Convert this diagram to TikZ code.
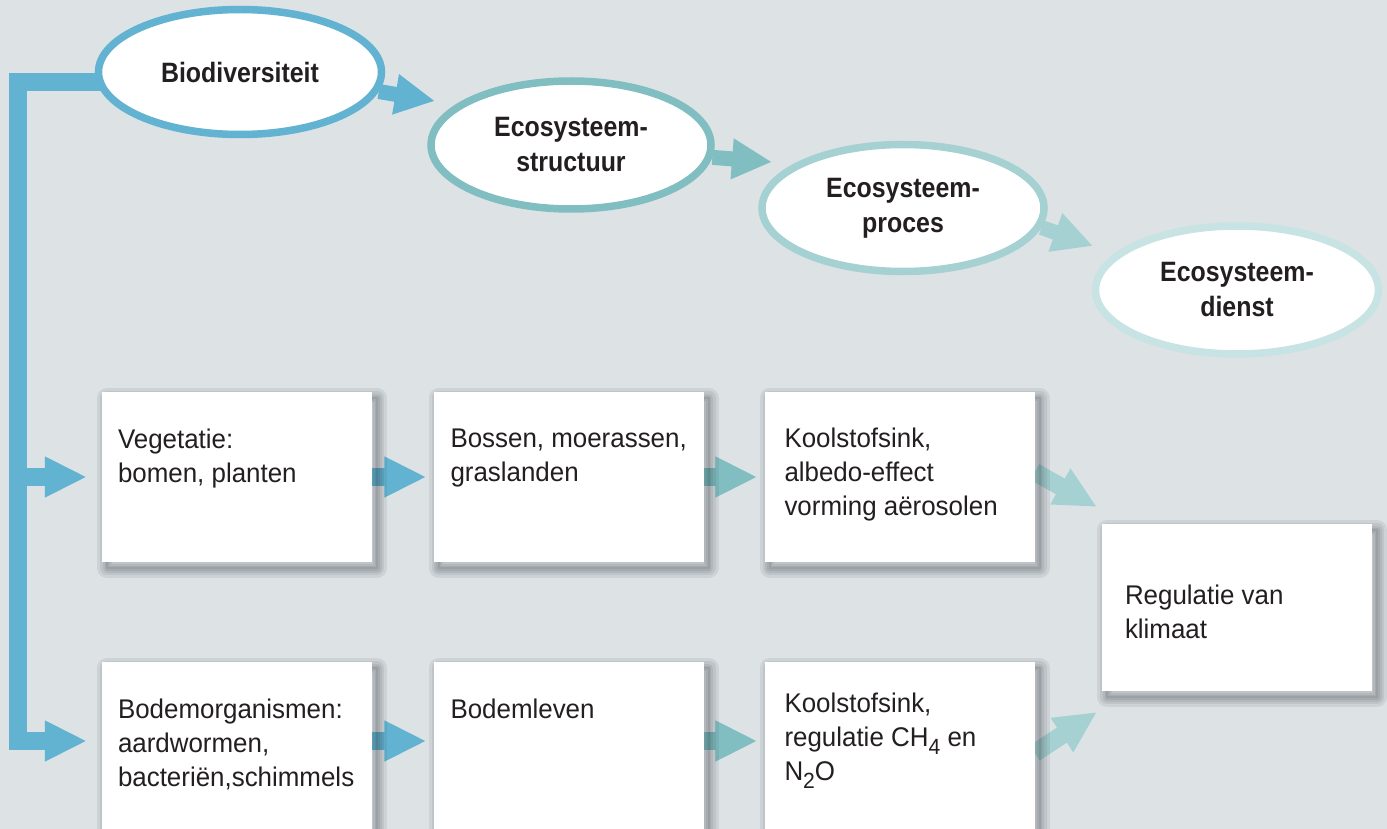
\documentclass[tikz,border=0pt]{standalone}
\usepackage{fontspec}
\setmainfont{Liberation Sans}[FakeStretch=0.96]
\newfontfamily\condbf{Liberation Sans}[FakeStretch=0.89]
\usetikzlibrary{shapes.geometric,arrows.meta}
\definecolor{bgc}{HTML}{DDE2E5}
\definecolor{cbio}{HTML}{62B3D1}
\definecolor{cst}{HTML}{80BEC1}
\definecolor{cpr}{HTML}{A6D1D3}
\definecolor{cdi}{HTML}{C8E3E4}
\definecolor{txtc}{HTML}{231F20}
\definecolor{shc}{HTML}{2A3438}
\pgfdeclarelayer{bglayer}
\pgfdeclarelayer{arrowlayer}
\pgfsetlayers{bglayer,arrowlayer,main}
\begin{document}
\begin{tikzpicture}[x=1pt,y=-1pt,
  ell/.style={ellipse, draw, line width=7.5pt, fill=white, inner sep=0pt, align=center,
    font=\condbf\bfseries\fontsize{28}{35}\selectfont, text=txtc},
  shlayer/.style={preaction={draw=shc, draw opacity=0.085, line width=#1, line join=round,
    transform canvas={shift={(5pt,-6pt)}}}},
  box/.style={rectangle, fill=white, minimum width=270pt, minimum height=170pt, inner sep=0pt,
    shlayer=20pt, shlayer=14pt, shlayer=9pt, shlayer=5pt, shlayer=2pt},
  txt/.style={anchor=base west, inner sep=0pt, font=\fontsize{27}{34}\selectfont, text=txtc},
  flow/.style={line width=18pt, -{Triangle[length=42pt,width=38pt]}},
  eflow/.style={line width=15pt, -{Triangle[length=40pt,width=38pt]}}
]
\begin{pgfonlayer}{bglayer}
\fill[bgc] (0,0) rectangle (1387,829);
\end{pgfonlayer}
\useasboundingbox (0,0) rectangle (1387,829);

% ellipses
\node[ell, draw=cbio, minimum width=283pt, minimum height=125pt] (bio) at (240,72) {Biodiversiteit};
\node[ell, draw=cst, minimum width=280pt, minimum height=128pt] (st) at (571,145) {Ecosysteem-\\structuur};
\node[ell, draw=cpr, minimum width=282pt, minimum height=127pt] (pr) at (903,208) {Ecosysteem-\\proces};
\node[ell, draw=cdi, minimum width=283pt, minimum height=128pt] (di) at (1237,290) {Ecosysteem-\\dienst};

% boxes
\node[box] (b1) at (237,477) {};
\node[box] (b2) at (568.5,477) {};
\node[box] (b3) at (899.5,477) {};
\node[box] (b4) at (237,747) {};
\node[box] (b5) at (568.5,747) {};
\node[box] (b6) at (899.5,747) {};
\node[box, minimum height=167pt] (reg) at (1237,607.5) {};

% texts
\node[txt, xshift=16pt, yshift=-57pt] (t1) at (b1.north west) {\parbox[t]{250pt}{\raggedright Vegetatie:\\bomen, planten}};
\node[txt, xshift=17pt, yshift=-56pt] (t2) at (b2.north west) {\parbox[t]{250pt}{\raggedright Bossen, moerassen,\\graslanden}};
\node[txt, xshift=20pt, yshift=-56pt] (t3) at (b3.north west) {\parbox[t]{250pt}{\raggedright Koolstofsink,\\albedo-effect\\vorming aërosolen}};
\node[txt, xshift=16pt, yshift=-57pt] (t4) at (b4.north west) {\parbox[t]{260pt}{\raggedright Bodemorganismen:\\aardwormen,\\bacteriën,schimmels}};
\node[txt, xshift=17pt, yshift=-57pt] (t5) at (b5.north west) {\parbox[t]{250pt}{\raggedright Bodemleven}};
\node[txt, xshift=20pt, yshift=-51pt] (t6) at (b6.north west) {\parbox[t]{250pt}{\raggedright Koolstofsink,\\regulatie CH\raisebox{-8pt}{\fontsize{22}{22}\selectfont 4} en\\N\raisebox{-8pt}{\fontsize{22}{22}\selectfont 2}O}};
\node[txt, xshift=23pt, yshift=-81pt] (t7) at (reg.north west) {\parbox[t]{240pt}{\raggedright Regulatie van\\klimaat}};

\coordinate (spine) at (18,82);
\coordinate (tipA) at (435,101);
\coordinate (tipB) at (772,162);
\coordinate (tipC) at (1093,246);
\coordinate (tipD) at (1097,507);
\coordinate (tipE) at (1097,712);
\coordinate (b4in) at ([yshift=6pt]b4.west);
\coordinate (b4out) at ([yshift=6pt]b4.east);
\coordinate (b5in) at ([yshift=6pt]b5.west);
\coordinate (b5out) at ([yshift=6pt]b5.east);
\coordinate (b6in) at ([yshift=6pt]b6.west);
\coordinate (b3out) at ([yshift=5pt]b3.east);
\coordinate (b6out) at ([yshift=-6pt]b6.east);
\coordinate (bioout) at ([yshift=-10pt]bio.center);
\coordinate (b1br) at (spine |- b1.west);

\begin{pgfonlayer}{arrowlayer}
% left bracket
\draw[flow, draw=cbio, line join=miter, shorten >=15pt]
  (bioout) -- (spine) -- (spine |- b4in) -- (b4in);
\draw[flow, draw=cbio, shorten >=15pt] (b1br) -- (b1.west);
% row arrows
\draw[flow, draw=cbio, shorten >=7pt] (b1.east) -- (b2.west);
\draw[flow, draw=cst, shorten >=7pt] (b2.east) -- (b3.west);
\draw[flow, draw=cbio, shorten >=7pt] (b4out) -- (b5in);
\draw[flow, draw=cst, shorten >=7pt] (b5out) -- (b6in);
\draw[flow, draw=cpr] (b3out) -- (tipD);
\draw[flow, draw=cpr] (b6out) -- (tipE);
% ellipse arrows
\draw[eflow, draw=cbio] (bio.-8) -- (tipA);
\draw[eflow, draw=cst] (st.-5) -- (tipB);
\draw[eflow, draw=cpr] (pr.-8) -- (tipC);
\end{pgfonlayer}
\end{tikzpicture}
\end{document}
